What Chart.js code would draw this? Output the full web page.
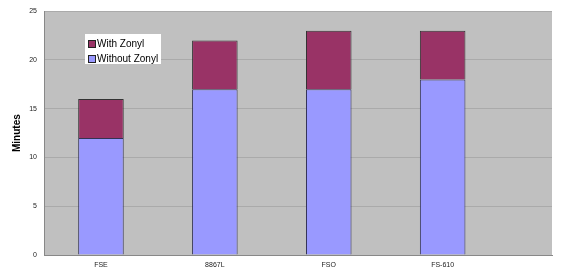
<!DOCTYPE html>
<html>
<head>
<meta charset="utf-8">
<script src="https://cdn.jsdelivr.net/npm/chart.js@4"></script>
<style>
  html, body { margin: 0; padding: 0; background: #fff; }
  #wrap { width: 580px; height: 270px; }
</style>
</head>
<body>
<div id="wrap"><canvas id="chart"></canvas></div>
<script>
// data
const categories = ['FSE', '8867L', 'FSO', 'FS-610'];
const withoutZonyl = [12, 17, 17, 18];
const withZonyl = [4, 5, 6, 5];
const yTicks = [0, 5, 10, 15, 20, 25];

function points(vals) {
    return vals.map((v, i) => ({ x: i, y: v }));
}

// grey plot background
const plotBg = {
    id: 'plotBg',
    beforeDraw(chart) {
        const a = chart.chartArea, ctx = chart.ctx;
        ctx.save();
        ctx.fillStyle = '#c0c0c0';
        ctx.fillRect(a.left, a.top, a.right - a.left, a.bottom - a.top);
        ctx.restore();
    }
};

// boxed legend sitting inside the plot, like the original
const boxLegend = {
    id: 'boxLegend',
    afterDraw(chart) {
        const ctx = chart.ctx;
        const items = [chart.data.datasets[1], chart.data.datasets[0]];
        ctx.save();
        ctx.fillStyle = '#fff';
        ctx.fillRect(85, 34, 76, 30);
        ctx.font = '10px "Liberation Sans", Arial, sans-serif';
        ctx.textBaseline = 'middle';
        items.forEach((ds, i) => {
            const y = 44 + i * 15;
            ctx.fillStyle = ds.backgroundColor;
            ctx.fillRect(88.5, y - 3.5, 7, 7);
            ctx.strokeStyle = '#222';
            ctx.lineWidth = 1;
            ctx.strokeRect(88.5, y - 3.5, 7, 7);
            ctx.fillStyle = '#000';
            ctx.fillText(ds.label, 97, y + 0.5);
        });
        ctx.restore();
    }
};

const config = {
    type: 'bar',
    data: {
        datasets: [{
            label: 'Without Zonyl',
            data: points(withoutZonyl),
            backgroundColor: '#9999ff',
            borderColor: '#333355',
            borderWidth: 1
        }, {
            label: 'With Zonyl',
            data: points(withZonyl),
            backgroundColor: '#993366',
            borderColor: '#333333',
            borderWidth: 1
        }]
    },
    options: {
        responsive: true,
        maintainAspectRatio: false,
        animation: false,
        layout: { padding: { top: 7, right: 28, left: 0, bottom: 0 } },
        datasets: { bar: { categoryPercentage: 1, barPercentage: 0.4 } },
        plugins: {
            legend: { display: false },
            tooltip: { enabled: false }
        },
        scales: {
            x: {
                type: 'linear',
                stacked: true,
                offset: false,
                min: -0.5,
                max: 3.96,
                grid: { display: false, drawTicks: false, tickLength: 0 },
                border: { display: true, color: '#888' },
                afterBuildTicks(scale) {
                    scale.ticks = categories.map((c, i) => ({ value: i }));
                },
                afterFit(scale) { scale.height = 15; },
                ticks: {
                    autoSkip: false,
                    maxRotation: 0,
                    padding: 6,
                    color: '#222',
                    font: { family: '"Liberation Sans", Arial, sans-serif', size: 7 },
                    callback: (v) => categories[v]
                }
            },
            y: {
                stacked: true,
                min: 0,
                max: 25,
                afterBuildTicks(scale) {
                    scale.ticks = yTicks.map(v => ({ value: v }));
                },
                afterFit(scale) { scale.width = 44; },
                grid: { color: '#aaaaaa', lineWidth: 1, drawTicks: false },
                border: { display: true, color: '#888' },
                ticks: {
                    padding: 7,
                    color: '#222',
                    font: { family: '"Liberation Sans", Arial, sans-serif', size: 7 }
                },
                title: {
                    display: true,
                    text: 'Minutes',
                    color: '#000',
                    padding: { top: 11, bottom: 4 },
                    font: { family: '"Liberation Sans", Arial, sans-serif', size: 10, weight: 'bold' }
                }
            }
        }
    },
    plugins: [plotBg, boxLegend]
};

const ctx = document.getElementById('chart').getContext('2d');
window.myBar = new Chart(ctx, config);
</script>
</body>
</html>
